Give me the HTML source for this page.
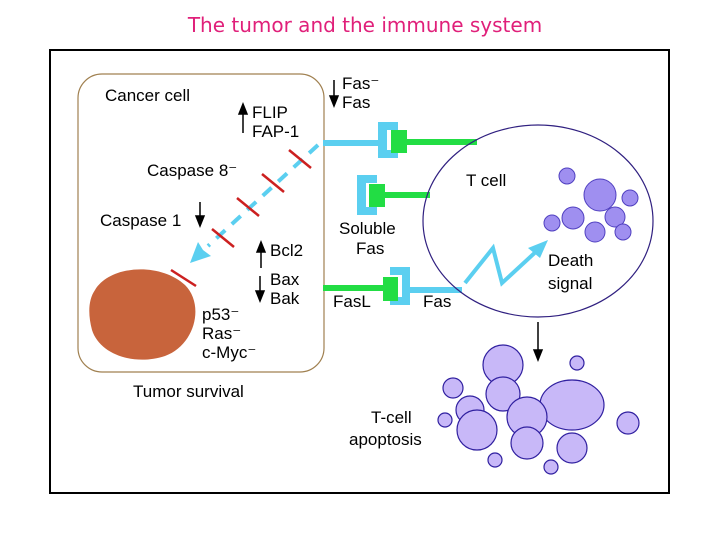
<!DOCTYPE html>
<html><head><style>body{margin:0;background:#fff}svg{display:block}text{font-family:"Liberation Sans",sans-serif;fill:#000}</style></head><body>
<svg width="720" height="540" viewBox="0 0 720 540">
<text x="365" y="32" text-anchor="middle" style="font-family:'DejaVu Sans',sans-serif;font-size:20px;fill:#e0207a">The tumor and the immune system</text>
<rect x="50" y="50" width="619" height="443" fill="#fff" stroke="#000" stroke-width="2"/>
<rect x="78" y="74" width="246" height="298" rx="24" fill="none" stroke="#a08050" stroke-width="1.2"/>
<path d="M95,290 C110,265 160,262 185,285 C205,305 195,345 165,356 C135,366 100,355 92,330 C88,315 88,300 95,290Z" fill="#c8643c"/>
<g font-size="17">
<text x="105" y="101">Cancer cell</text>
<text x="252" y="118">FLIP</text><text x="252" y="137">FAP-1</text>
<text x="147" y="176">Caspase 8⁻</text>
<text x="100" y="226">Caspase 1</text>
<text x="270" y="256">Bcl2</text>
<text x="270" y="285">Bax</text><text x="270" y="304">Bak</text>
<text x="202" y="320">p53⁻</text><text x="202" y="339">Ras⁻</text><text x="202" y="358">c-Myc⁻</text>
<text x="133" y="397">Tumor survival</text>
<text x="342" y="89">Fas⁻</text><text x="342" y="108">Fas</text>
<text x="339" y="234">Soluble</text><text x="356" y="254">Fas</text>
<text x="333" y="307">FasL</text><text x="423" y="307">Fas</text>
<text x="466" y="186">T cell</text>
<text x="548" y="266">Death</text><text x="548" y="289">signal</text>
<text x="371" y="423">T-cell</text><text x="349" y="445">apoptosis</text>
</g>
<g stroke="#000" stroke-width="1.5" fill="#000">
<line x1="243" y1="133" x2="243" y2="112"/><path d="M239,114 L243,104 L247,114Z"/>
<line x1="200" y1="202" x2="200" y2="218"/><path d="M196,216 L200,226 L204,216Z"/>
<line x1="261" y1="268" x2="261" y2="250"/><path d="M257,252 L261,242 L265,252Z"/>
<line x1="260" y1="276" x2="260" y2="293"/><path d="M256,291 L260,301 L264,291Z"/>
<line x1="334" y1="80" x2="334" y2="98"/><path d="M330,96 L334,106 L338,96Z"/>
<line x1="538" y1="322" x2="538" y2="352"/><path d="M534,350 L538,360 L542,350Z"/>
</g>
<g stroke="#5bcff0" stroke-width="4" fill="none">
<line x1="323" y1="143" x2="380" y2="143" stroke-width="6"/>
<path d="M318,145 L208,246" stroke-dasharray="12,9"/>
<line x1="410" y1="290" x2="462" y2="290" stroke-width="6"/>
</g>
<path d="M190,263 L198,242 L203,250 L211,256 Z" fill="#5bcff0"/>
<g fill="#5bcff0">
<path d="M378,122 h20 v8 h-11 v20 h11 v8 h-20z"/>
<path d="M357,175 h20 v8 h-11 v24 h11 v8 h-20z"/>
<path d="M390,267 h20 v38 h-20 v-8 h12 v-22 h-12z"/>
</g>
<g fill="#22dd44">
<rect x="391" y="130" width="16" height="23"/><rect x="407" y="139" width="70" height="6"/>
<rect x="369" y="184" width="16" height="23"/><rect x="385" y="192" width="45" height="6"/>
<rect x="383" y="277" width="15" height="24"/><rect x="323" y="285" width="60" height="6"/>
</g>
<g stroke="#cc2020" stroke-width="2.5">
<line x1="289" y1="150" x2="311" y2="168"/><line x1="262" y1="174" x2="284" y2="192"/>
<line x1="237" y1="198" x2="259" y2="216"/><line x1="212" y1="229" x2="234" y2="247"/>
<line x1="171" y1="270" x2="196" y2="286"/>
</g>
<ellipse cx="538" cy="221" rx="115" ry="96" fill="none" stroke="#302080" stroke-width="1.2"/>
<path d="M465,283 L493,248 L502,283 L540,248" stroke="#5bcff0" stroke-width="4" fill="none"/>
<path d="M548,240 L528,248 L540,258Z" fill="#5bcff0"/>
<g fill="#9f8ff0" stroke="#5040c0" stroke-width="1">
<circle cx="567" cy="176" r="8"/><circle cx="600" cy="195" r="16"/><circle cx="630" cy="198" r="8"/>
<circle cx="573" cy="218" r="11"/><circle cx="615" cy="217" r="10"/><circle cx="552" cy="223" r="8"/>
<circle cx="595" cy="232" r="10"/><circle cx="623" cy="232" r="8"/>
</g>
<g fill="#c8b8f8" stroke="#3020a0" stroke-width="1.2">
<circle cx="503" cy="365" r="20"/><circle cx="577" cy="363" r="7"/><circle cx="453" cy="388" r="10"/>
<circle cx="503" cy="394" r="17"/><ellipse cx="572" cy="405" rx="32" ry="25"/><circle cx="470" cy="410" r="14"/>
<circle cx="445" cy="420" r="7"/><circle cx="527" cy="417" r="20"/><circle cx="477" cy="430" r="20"/>
<circle cx="628" cy="423" r="11"/><circle cx="527" cy="443" r="16"/><circle cx="572" cy="448" r="15"/>
<circle cx="495" cy="460" r="7"/><circle cx="551" cy="467" r="7"/>
</g>
</svg>
</body></html>
